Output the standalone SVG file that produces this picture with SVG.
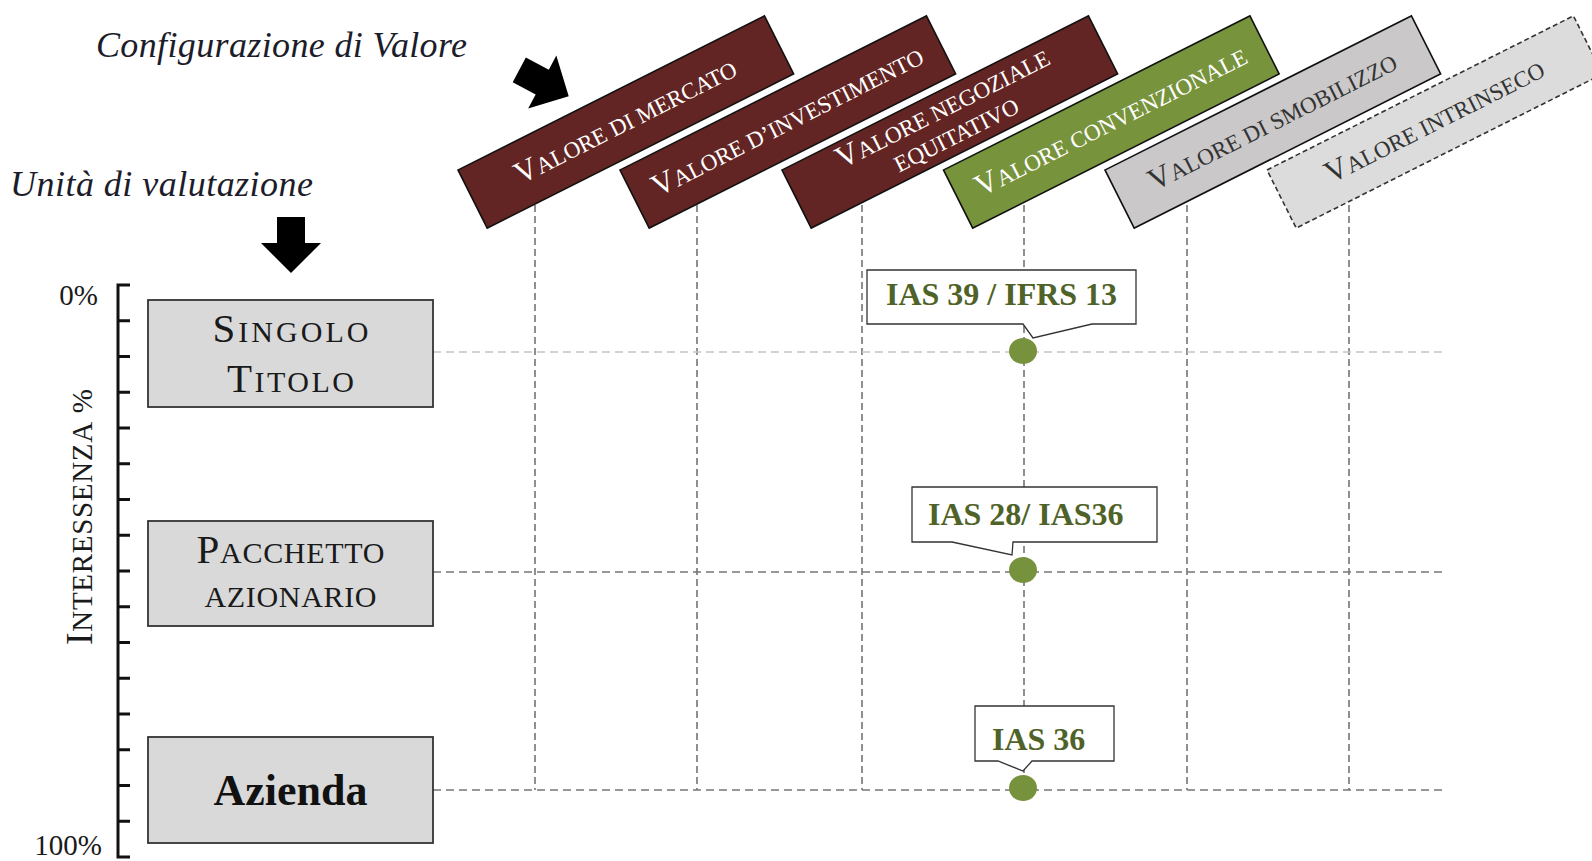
<svg xmlns="http://www.w3.org/2000/svg" xmlns:xlink="http://www.w3.org/1999/xlink" width="1592" height="861" viewBox="0 0 1592 861">
<style>
text{font-family:"Liberation Serif","Times New Roman",serif;}
.ttl{font-style:italic;font-size:36px;fill:#1c1c2a;}
.hb{stroke:#111;stroke-width:1.6;}
.mar{fill:#632523;}
.grn{fill:#77933c;}
.gry{fill:#cac8c8;}
.lgr{fill:#dcdcdc;stroke-dasharray:5,3;stroke:#333;}
.ht{font-size:23px;text-anchor:middle;}
.ht .b{font-size:31px;}
.wt{fill:#ffffff;}
.dk{fill:#333333;}
.unit{fill:#d9d9d9;stroke:#333;stroke-width:1.8;}
.ut{font-size:30px;fill:#1a1a1a;text-anchor:middle;}
.ut .b{font-size:41px;}
.vl{stroke:#555;stroke-width:1.3;stroke-dasharray:7,4;fill:none;}
.hl{stroke:#777;stroke-width:1.3;stroke-dasharray:8,5;fill:none;}
.hl0{stroke:#c4c4c4;}
.dot{fill:#76923c;}
.co{fill:#fff;stroke:#333;stroke-width:1.3;}
.ct{font-size:32px;font-weight:bold;fill:#4f6228;}
.ax{stroke:#111;stroke-width:3;fill:none;}
.pct{font-size:29px;fill:#1a1a1a;text-anchor:end;}
</style>
<defs>
<path id="arr" d="M-14,-28 H14 V-2 H30 L0,28 L-30,-2 H-14 Z" fill="#000"/>
</defs>

<g id="titles">
<text class="ttl" x="96" y="57" textLength="371">Configurazione di Valore</text>
<text class="ttl" x="10" y="196" textLength="303">Unità di valutazione</text>
<use xlink:href="#arr" transform="translate(544,83) rotate(-62)"/>
<use xlink:href="#arr" transform="translate(291,245)"/>
</g>

<g id="axis">
<path class="ax" d="M130,285 H118 V857 H130 M118,320.75 H130 M118,356.5 H130 M118,392.25 H130 M118,428 H130 M118,463.75 H130 M118,499.5 H130 M118,535.25 H130 M118,571 H130 M118,606.75 H130 M118,642.5 H130 M118,678.25 H130 M118,714 H130 M118,749.75 H130 M118,785.5 H130 M118,821.25 H130"/>
<text class="pct" x="98" y="305">0%</text>
<text class="pct" x="102" y="855">100%</text>
<text transform="translate(92,517) rotate(-90)" textLength="256" style="font-size:29px;fill:#1a1a1a;text-anchor:middle"><tspan style="font-size:38px">I</tspan>NTERESSENZA<tspan dx="8">%</tspan></text>
</g>

<g id="connectors">
<path class="vl" d="M535,150 V790 M697,150 V790 M862,150 V790 M1024,150 V790 M1187,150 V790 M1349,150 V790"/>
<path class="hl hl0" d="M433,352 H1445"/>
<path class="hl" d="M433,572 H1445 M433,790 H1445"/>
</g>

<g id="h1" transform="translate(458,170) rotate(-26.7)">
<rect class="hb mar" width="343" height="65"/>
<text class="ht wt" x="171.5" y="41"><tspan class="b">V</tspan>ALORE DI MERCATO</text>
</g>
<g id="h2" transform="translate(620,170) rotate(-26.7)">
<rect class="hb mar" width="343" height="65"/>
<text class="ht wt" x="171.5" y="41"><tspan class="b">V</tspan>ALORE D’INVESTIMENTO</text>
</g>
<g id="h3" transform="translate(782,170) rotate(-26.7)">
<rect class="hb mar" width="343" height="65"/>
<text class="ht wt" x="171.5" y="26"><tspan class="b">V</tspan>ALORE NEGOZIALE</text>
<text class="ht wt" x="171.5" y="55">EQUITATIVO</text>
</g>
<g id="h4" transform="translate(943.5,170) rotate(-26.7)">
<rect class="hb grn" width="343" height="65"/>
<text class="ht wt" x="171.5" y="41"><tspan class="b">V</tspan>ALORE CONVENZIONALE</text>
</g>
<g id="h5" transform="translate(1105,170) rotate(-26.7)">
<rect class="hb gry" width="343" height="65"/>
<text class="ht dk" x="171.5" y="41"><tspan class="b">V</tspan>ALORE DI SMOBILIZZO</text>
</g>
<g id="h6" transform="translate(1267,170) rotate(-26.7)">
<rect class="hb lgr" width="343" height="65"/>
<text class="ht dk" x="171.5" y="41"><tspan class="b">V</tspan>ALORE INTRINSECO</text>
</g>

<g id="u1">
<rect class="unit" x="148" y="300" width="285" height="107"/>
<text class="ut" x="290.5" y="342" textLength="156"><tspan class="b">S</tspan>INGOLO</text>
<text class="ut" x="290.5" y="392" textLength="127"><tspan class="b">T</tspan>ITOLO</text>
</g>
<g id="u2">
<rect class="unit" x="148" y="521" width="285" height="105"/>
<text class="ut" x="290.5" y="563" textLength="188"><tspan class="b">P</tspan>ACCHETTO</text>
<text class="ut" x="290.5" y="607" textLength="172">AZIONARIO</text>
</g>
<g id="u3">
<rect class="unit" x="148" y="737" width="285" height="106"/>
<text x="290.5" y="805" style="font-size:44px;font-weight:bold;fill:#111;text-anchor:middle">Azienda</text>
</g>

<g id="c1">
<path class="co" d="M867,270 H1136 V324 H1092 L1033,338 L1023,324 H867 Z"/>
<text class="ct" x="1001.5" y="305" text-anchor="middle">IAS 39 / IFRS 13</text>
<ellipse class="dot" cx="1023" cy="351" rx="14" ry="13"/>
</g>
<g id="c2">
<path class="co" d="M912,487 H1157 V542 H1013 L1012,555 L952,542 H912 Z"/>
<text class="ct" x="928" y="525">IAS 28/ IAS36</text>
<ellipse class="dot" cx="1023" cy="570" rx="14" ry="13"/>
</g>
<g id="c3">
<path class="co" d="M975,706 H1114 V761 H1032 L1023,771 L998,761 H975 Z"/>
<text class="ct" x="992" y="750">IAS 36</text>
<ellipse class="dot" cx="1023" cy="788" rx="14" ry="13"/>
</g>
</svg>
